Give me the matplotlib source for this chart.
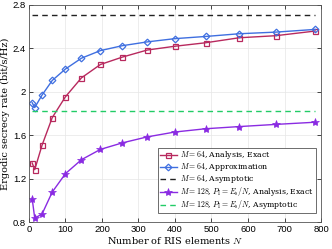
import matplotlib
matplotlib.use("Agg")
import matplotlib.pyplot as plt

N = [9, 16, 36, 64, 100, 144, 196, 256, 324, 400, 484, 576, 676, 784]
exact64 = [1.345, 1.283, 1.508, 1.763, 1.954, 2.129, 2.252, 2.32, 2.385, 2.42, 2.452, 2.498, 2.517, 2.56]
approx64 = [1.90, 1.855, 1.97, 2.105, 2.21, 2.31, 2.38, 2.425, 2.46, 2.49, 2.51, 2.535, 2.55, 2.575]
asym64 = 2.71
exact128 = [1.015, 0.837, 0.874, 1.077, 1.246, 1.375, 1.47, 1.53, 1.585, 1.63, 1.66, 1.68, 1.70, 1.72]
asym128 = 1.825

xticks = [0, 100, 200, 300, 400, 500, 600, 700, 800]
yticks = [0.8, 1.2, 1.6, 2.0, 2.4, 2.8]
yticklabels = ["0.8", "1.2", "1.6", "2", "2.4", "2.8"]

plt.rcParams['mathtext.fontset'] = 'cm'
fig = plt.figure(figsize=(3.32, 2.49), dpi=100)
ax = fig.add_axes([0.087, 0.108, 0.88, 0.872])

c_red = '#B8295E'
c_blue = '#3F6FE0'
c_purple = '#8A2BE2'
c_green = '#22CC66'

ax.plot(N, exact64, color=c_red, marker='s', ms=3.6, mfc='none', mew=0.9, lw=1.0,
        label=r'$M=64$, Analysis, Exact')
ax.plot(N, approx64, color=c_blue, marker='D', ms=3.4, mfc='none', mew=0.9, lw=1.0,
        label=r'$M=64$, Approximation')
ax.plot([N[0], N[-1]], [asym64, asym64], color='#222222', ls=(0, (4, 3)), lw=1.0,
        label=r'$M=64$, Asymptotic')
ax.plot(N, exact128, color=c_purple, marker='*', ms=6, mew=0.5, lw=1.0,
        label=r'$M=128$, $P_\mathrm{I}=E_\mathrm{s}/N$, Analysis, Exact')
ax.plot([N[0], N[-1]], [asym128, asym128], color=c_green, ls=(0, (4, 3)), lw=1.0,
        label=r'$M=128$, $P_\mathrm{I}=E_\mathrm{s}/N$, Asymptotic')

ax.set_xlim(0, 800)
ax.set_ylim(0.8, 2.8)
ax.set_xticks(xticks)
ax.set_yticks(yticks)
ax.set_yticklabels(yticklabels)
ax.tick_params(direction='in', labelsize=6.8, length=3, width=0.5, top=True, right=True, pad=2)
for lab in ax.get_xticklabels() + ax.get_yticklabels():
    lab.set_family('Liberation Sans')
ax.grid(True, color='#E6E6E6', lw=0.5)
for s in ax.spines.values():
    s.set_linewidth(0.6)
    s.set_color('#555555')

ax.set_xlabel(r'Number of RIS elements $N$', family='DejaVu Serif', fontsize=7, labelpad=1)
ax.set_ylabel(r'Ergodic secrecy rate (bit/s/Hz)', family='DejaVu Serif', fontsize=7, labelpad=2)

leg = ax.legend(loc='lower right', prop={'family': 'DejaVu Serif', 'size': 5.6},
                handlelength=2.2, labelspacing=0.0, borderpad=0.2, handletextpad=0.4,
                fancybox=False, framealpha=1, edgecolor='#555555',
                bbox_to_anchor=(0.995, 0.025))
leg.get_frame().set_linewidth(0.6)

fig.savefig('out.png', dpi=100)
